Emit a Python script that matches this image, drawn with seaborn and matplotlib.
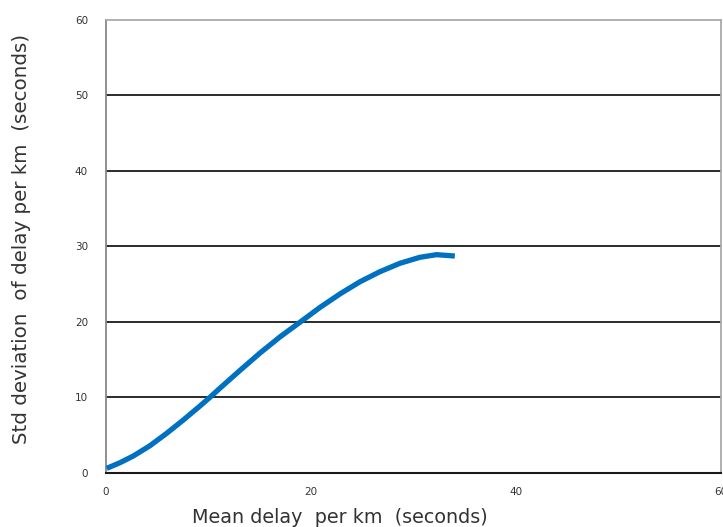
import matplotlib
matplotlib.use("Agg")
import matplotlib.pyplot as plt
import seaborn as sns
import pandas as pd

mean_delay = [0.07, 1.37, 2.66, 4.29, 5.92, 7.54, 9.17, 10.15, 11.12, 13.07, 15.02,
              16.98, 19.09, 20.88, 22.9, 24.78, 26.73, 28.68, 30.63, 32.26, 34.05]
std_delay = [0.58, 1.33, 2.21, 3.58, 5.22, 6.98, 8.84, 10.0, 11.2, 13.55, 15.85,
             18.0, 20.1, 21.9, 23.75, 25.3, 26.64, 27.75, 28.55, 28.9, 28.72]
x_ticks = [0, 20, 40, 60]
y_ticks = [0, 10, 20, 30, 40, 50, 60]

sns.set_style("white")
plt.rcParams['font.family'] = ['DejaVu Sans']

df = pd.DataFrame({"x": mean_delay, "y": std_delay})

fig = plt.figure(figsize=(7.23, 5.27), dpi=100)
ax = fig.add_axes([0.1466, 0.103, 0.8502, 0.859])

for yv in y_ticks[1:-1]:
    ax.axhline(yv, color="#1a1a1a", lw=1.3, zorder=1)

sns.lineplot(data=df, x="x", y="y", ax=ax, color="#0070C0", lw=3.8,
             solid_capstyle="butt", solid_joinstyle="round", zorder=3)

ax.set_xlim(0, 60)
ax.set_ylim(0, 60)
ax.set_xticks(x_ticks)
ax.set_yticks(y_ticks)
ax.tick_params(axis="x", length=0, pad=10, labelsize=7.5, colors="#333333")
ax.tick_params(axis="y", length=3, width=1, pad=10, labelsize=7.5, colors="#333333",
               direction="out")
ax.tick_params(axis="y", color="#555555")

for side in ["top", "right", "left"]:
    ax.spines[side].set_color("#aaaaaa")
    ax.spines[side].set_linewidth(1.3)
ax.spines["left"].set_color("#888888")
ax.spines["bottom"].set_color("#1a1a1a")
ax.spines["bottom"].set_linewidth(1.5)

ax.set_xlabel("Mean delay  per km  (seconds)", fontsize=13.8, color="#333333")
ax.set_ylabel("Std deviation  of delay per km  (seconds)", fontsize=14.3, color="#333333")
ax.xaxis.set_label_coords(0.38, -0.098)
ax.xaxis.label.set_va("center")
ax.yaxis.set_label_coords(-0.137, 0.516)
ax.yaxis.label.set_va("center")

fig.savefig("out.png", dpi=100)
